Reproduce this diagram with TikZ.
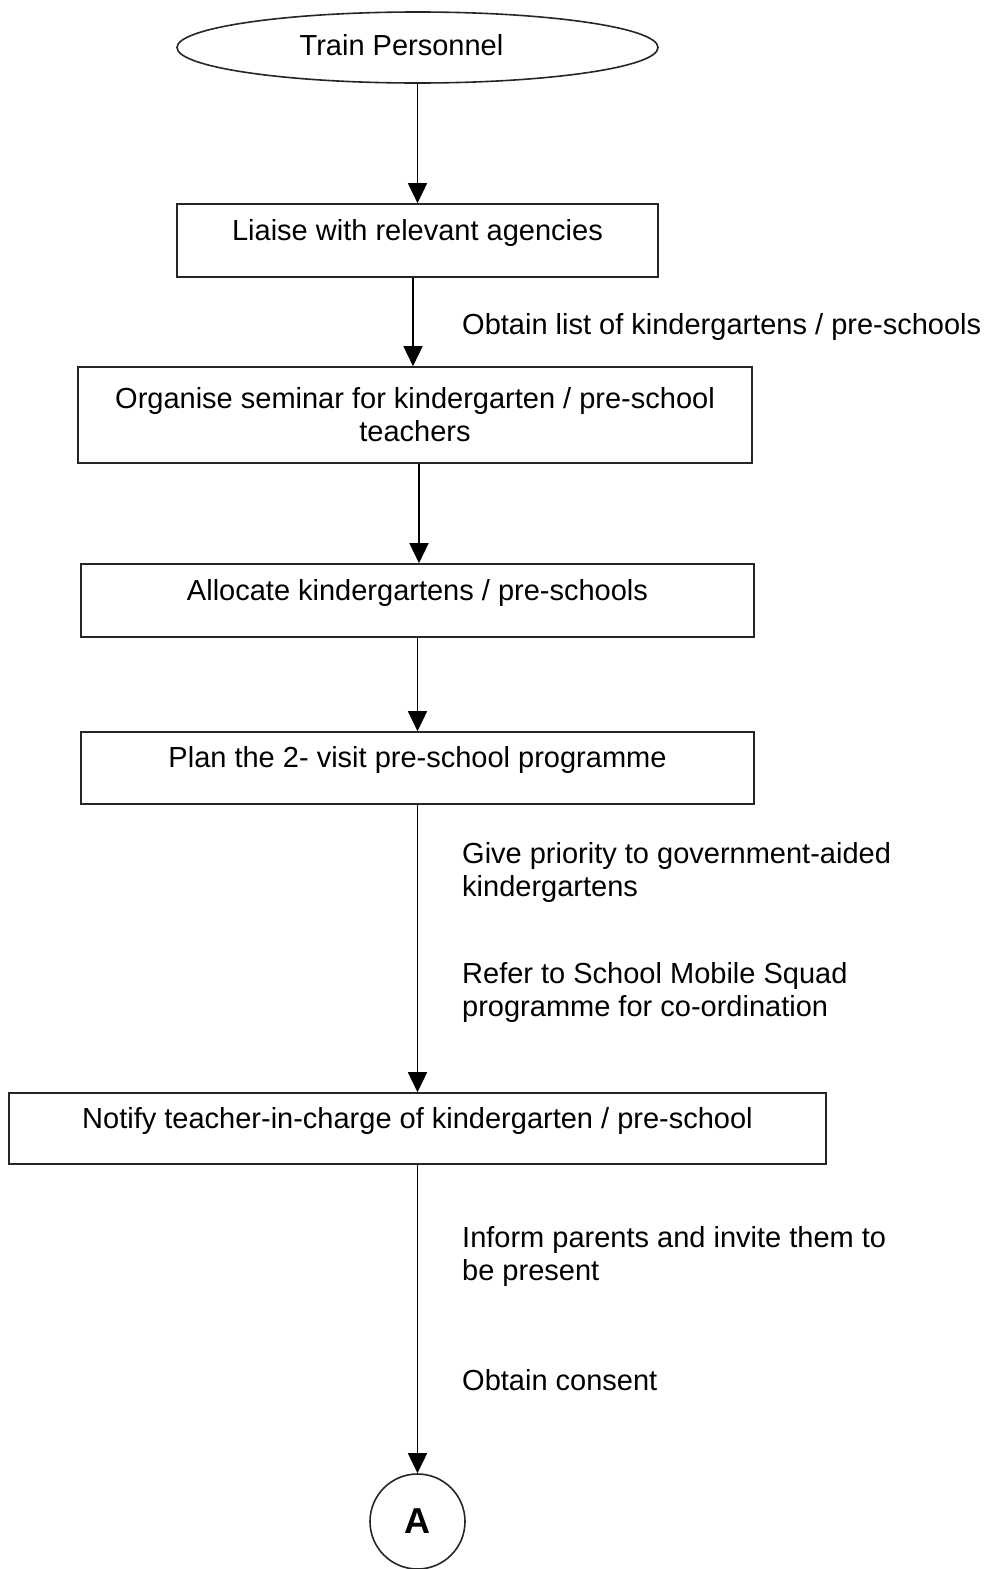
\documentclass[tikz,border=0pt]{standalone}
\usepackage{fontspec}
\setmainfont{Liberation Sans}
\usetikzlibrary{arrows.meta,shapes.geometric}
\begin{document}
\begin{tikzpicture}[x=1pt,y=-1pt,
  every node/.style={font=\fontsize{29}{33}\selectfont},
  flowline/.style={line width=1.6pt,draw=black!90},
  stepbox/.style={draw=black!85,line width=1.6pt,rectangle,inner sep=0pt,align=center},
  upbox/.style={stepbox,text height=21pt,text depth=22pt},
  arr/.style={line width=1.5pt,-{Triangle[length=20pt,width=19pt]}},
  note/.style={anchor=west,inner sep=0pt,align=left},
  oneline/.style={text height=21pt,text depth=6pt}]
\useasboundingbox (0,0) rectangle (994,1569);
\node[ellipse,draw=black!85,line width=1.6pt,minimum width=481pt,minimum height=71pt,inner sep=0pt,
  label={[xshift=-16pt,oneline]center:Train Personnel}] (e) at (417.5,47.5) {};
\node[upbox,minimum width=481pt,minimum height=73pt] (b1) at (417.5,240.5) {Liaise with relevant agencies};
\node[stepbox,minimum width=674pt,minimum height=96pt] (b2) at (415,415) {Organise seminar for kindergarten / pre-school\\teachers};
\node[upbox,minimum width=673pt,minimum height=73pt] (b3) at (417.5,600.5) {Allocate kindergartens / pre-schools};
\node[upbox,minimum width=673pt,minimum height=72pt] (b4) at (417.5,768) {Plan the 2- visit pre-school programme};
\node[upbox,minimum width=817pt,minimum height=71pt] (b5) at (417.5,1128.5) {Notify teacher-in-charge of kindergarten / pre-school};
\node[circle,draw=black!85,line width=1.6pt,minimum size=95pt,inner sep=0pt,
  font=\fontsize{36}{40}\selectfont\bfseries] (c) at (417.5,1521.5) {A};

\node[note,oneline] (l1) at (462,327) {Obtain list of kindergartens / pre-schools};
\node[note] (l2) at (462,872.5) {Give priority to government-aided\\kindergartens};
\node[note] (l3) at (462,992.5) {Refer to School Mobile Squad\\programme for co-ordination};
\node[note] (l4) at (462,1256.5) {Inform parents and invite them to\\be present};
\node[note,oneline] (l5) at (462,1383) {Obtain consent};

\draw[arr] (e.south) -- (b1.north);
\draw[arr] ([xshift=-4.5pt]b1.south) -- ([xshift=-4.5pt]b1.south |- b2.north);
\draw[arr] ([xshift=4pt]b2.south) -- ([xshift=4pt]b2.south |- b3.north);
\draw[arr] (b3.south) -- (b4.north);
\draw[arr] (b4.south) -- (b5.north);
\draw[arr] (b5.south) -- (c.north);
\end{tikzpicture}
\end{document}
